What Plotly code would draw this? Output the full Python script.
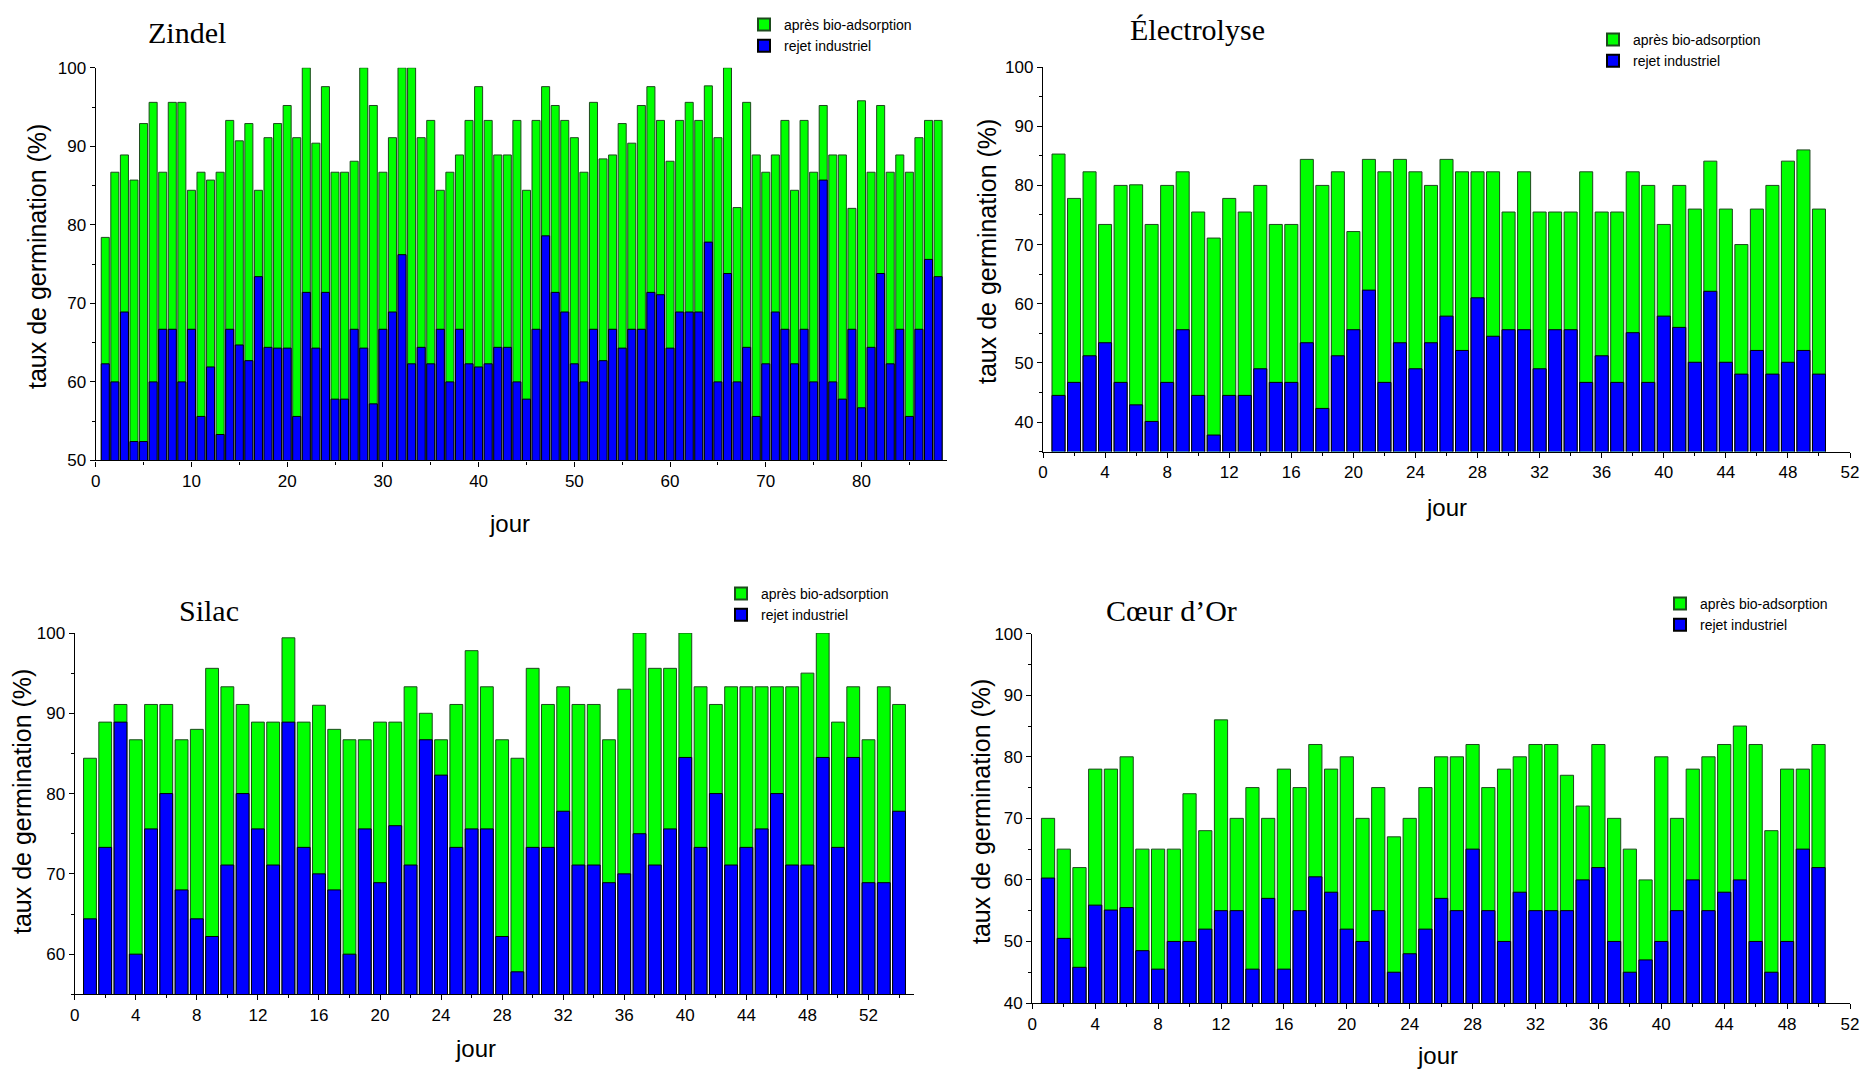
import plotly.graph_objects as go

# ---------------- data ----------------
zindel_apres = [78.4, 86.7, 88.9, 85.7, 92.9, 95.6, 86.7, 95.6, 95.6, 84.4,
                86.7, 85.7, 86.7, 93.3, 90.7, 92.9, 84.4, 91.1, 92.9, 95.2,
                91.1, 100.0, 90.4, 97.6, 86.7, 86.7, 88.1, 100.0, 95.2, 86.7,
                91.1, 100.0, 100.0, 91.1, 93.3, 84.4, 86.7, 88.9, 93.3, 97.6,
                93.3, 88.9, 88.9, 93.3, 84.4, 93.3, 97.6, 95.2, 93.3, 91.1,
                86.7, 95.6, 88.4, 88.9, 92.9, 90.4, 95.2, 97.6, 93.3, 88.1,
                93.3, 95.6, 93.3, 97.7, 91.1, 100.0, 82.2, 95.6, 88.9, 86.7,
                88.9, 93.3, 84.4, 93.3, 86.7, 95.2, 88.9, 88.9, 82.1, 95.8,
                86.7, 95.2, 86.7, 88.9, 86.7, 91.1, 93.3, 93.3]
zindel_rejet = [62.3, 60.0, 68.9, 52.4, 52.4, 60.0, 66.7, 66.7, 60.0, 66.7,
                55.6, 61.9, 53.3, 66.7, 64.7, 62.7, 73.4, 64.4, 64.3, 64.3,
                55.6, 71.4, 64.3, 71.4, 57.8, 57.8, 66.7, 64.3, 57.2, 66.7,
                68.9, 76.2, 62.3, 64.4, 62.3, 66.7, 60.0, 66.7, 62.3, 61.9,
                62.3, 64.4, 64.4, 60.0, 57.8, 66.7, 78.6, 71.4, 68.9, 62.3,
                60.0, 66.7, 62.7, 66.7, 64.3, 66.7, 66.7, 71.4, 71.1, 64.3,
                68.9, 68.9, 68.9, 77.8, 60.0, 73.8, 60.0, 64.4, 55.6, 62.3,
                68.9, 66.7, 62.3, 66.7, 60.0, 85.7, 60.0, 57.8, 66.7, 56.7,
                64.4, 73.8, 62.3, 66.7, 55.6, 66.7, 75.6, 73.4]

electro_apres = [85.3, 77.8, 82.3, 73.4, 80.0, 80.1, 73.4, 80.0, 82.3, 75.5,
                 71.1, 77.8, 75.5, 80.0, 73.4, 73.4, 84.4, 80.0, 82.3, 72.2,
                 84.4, 82.3, 84.4, 82.3, 80.0, 84.4, 82.3, 82.3, 82.3, 75.5,
                 82.3, 75.5, 75.5, 75.5, 82.3, 75.5, 75.5, 82.3, 80.0, 73.4,
                 80.0, 76.0, 84.1, 76.0, 70.0, 76.0, 80.0, 84.1, 86.0, 76.0]
electro_rejet = [44.5, 46.7, 51.2, 53.4, 46.7, 42.9, 40.1, 46.7, 55.6, 44.5,
                 37.8, 44.5, 44.5, 49.0, 46.7, 46.7, 53.4, 42.3, 51.2, 55.6,
                 62.3, 46.7, 53.4, 49.0, 53.4, 57.9, 52.1, 61.0, 54.5, 55.6,
                 55.6, 49.0, 55.6, 55.6, 46.7, 51.2, 46.7, 55.1, 46.7, 57.9,
                 56.0, 50.1, 62.1, 50.1, 48.1, 52.1, 48.1, 50.1, 52.1, 48.1]

silac_apres = [84.4, 88.9, 91.1, 86.7, 91.1, 91.1, 86.7, 88.0, 95.6, 93.3,
               91.1, 88.9, 88.9, 99.4, 88.9, 91.0, 88.0, 86.7, 86.7, 88.9,
               88.9, 93.3, 90.0, 86.7, 91.1, 97.8, 93.3, 86.7, 84.4, 95.6,
               91.1, 93.3, 91.1, 91.1, 86.7, 93.0, 100.0, 95.6, 95.6, 100.0,
               93.3, 91.1, 93.3, 93.3, 93.3, 93.3, 93.3, 95.0, 100.0, 88.9,
               93.3, 86.7, 93.3, 91.1]
silac_rejet = [64.4, 73.3, 88.9, 60.0, 75.6, 80.0, 68.0, 64.4, 62.2, 71.1,
               80.0, 75.6, 71.1, 88.9, 73.3, 70.0, 68.0, 60.0, 75.6, 68.9,
               76.0, 71.1, 86.7, 82.3, 73.3, 75.6, 75.6, 62.2, 57.8, 73.3,
               73.3, 77.8, 71.1, 71.1, 68.9, 70.0, 75.0, 71.1, 75.6, 84.5,
               73.3, 80.0, 71.1, 73.3, 75.6, 80.0, 71.1, 71.1, 84.5, 73.3,
               84.5, 68.9, 68.9, 77.8]

coeur_apres = [70, 65, 62, 78, 78, 80, 65, 65, 65, 74,
               68, 86, 70, 75, 70, 78, 75, 82, 78, 80,
               70, 75, 67, 70, 75, 80, 80, 82, 75, 78,
               80, 82, 82, 77, 72, 82, 70, 65, 60, 80,
               70, 78, 80, 82, 85, 82, 68, 78, 78, 82]
coeur_rejet = [60.3, 50.5, 45.8, 55.9, 55.1, 55.5, 48.5, 45.5, 50.0, 50.0,
               52.0, 55.0, 55.0, 45.5, 57.0, 45.5, 55.0, 60.5, 58.0, 52.0,
               50.0, 55.0, 45.0, 48.0, 52.0, 57.0, 55.0, 65.0, 55.0, 50.0,
               58.0, 55.0, 55.0, 55.0, 60.0, 62.0, 50.0, 45.0, 47.0, 50.0,
               55.0, 60.0, 55.0, 58.0, 60.0, 50.0, 45.0, 50.0, 65.0, 62.0]

titles = ["Zindel", "Électrolyse", "Silac", "Cœur d\u2019Or"]
series_names = ["après bio-adsorption", "rejet industriel"]
x_title = "jour"
y_title = "taux de germination (%)"

# ---------------- layout geometry (pixels) ----------------
W, H = 1863, 1069
panels = [
    dict(apres=zindel_apres, rejet=zindel_rejet, x0=95.7, x1=946.7, ytop=67.8, ybot=460.4,
         xr=[0, 88.9], yr=[50, 100], dtx=10, mdx=5,
         title_xy=(187, 32), jour_xy=(509, 523), yt_xy=(37, 257), leg_xy=(744, 9)),
    dict(apres=electro_apres, rejet=electro_rejet, x0=1043, x1=1850, ytop=67.1, ybot=451.6,
         xr=[0, 52], yr=[35, 100], dtx=4, mdx=2,
         title_xy=(1197, 30), jour_xy=(1446, 507), yt_xy=(987, 252), leg_xy=(1593, 24)),
    dict(apres=silac_apres, rejet=silac_rejet, x0=74.7, x1=914.3, ytop=633, ybot=994.3,
         xr=[0, 55], yr=[55, 100], dtx=4, mdx=2,
         title_xy=(209, 610), jour_xy=(475, 1048), yt_xy=(22, 802), leg_xy=(721, 578)),
    dict(apres=coeur_apres, rejet=coeur_rejet, x0=1032.3, x1=1850, ytop=633.7, ybot=1003,
         xr=[0, 52], yr=[40, 100], dtx=4, mdx=2,
         title_xy=(1171, 610), jour_xy=(1437, 1055), yt_xy=(981, 812), leg_xy=(1660, 588)),
]

GREEN = "#00FF00"
BLUE = "#0000FF"
AX_FONT = dict(family="Liberation Sans, Arial, sans-serif", size=17, color="black")

fig = go.Figure()
annotations = []
layout = dict(width=W, height=H, margin=dict(l=0, r=0, t=0, b=0, autoexpand=False),
              paper_bgcolor="white", plot_bgcolor="white",
              barmode="overlay", bargap=0.16, template="none")

for i, p in enumerate(panels):
    k = "" if i == 0 else str(i + 1)
    xa, ya = "x" + k, "y" + k
    leg = "legend" + k
    days = list(range(1, len(p["apres"]) + 1))
    fig.add_trace(go.Bar(x=days, y=p["apres"], name=series_names[0], xaxis=xa, yaxis=ya,
                         marker=dict(color=GREEN, line=dict(color="#1d4a1d", width=1)),
                         width=0.84, legend=leg))
    fig.add_trace(go.Bar(x=days, y=p["rejet"], name=series_names[1], xaxis=xa, yaxis=ya,
                         marker=dict(color=BLUE, line=dict(color="black", width=1)),
                         width=0.84, legend=leg))
    layout["xaxis" + k] = dict(
        domain=[p["x0"] / W, p["x1"] / W], anchor=ya, range=p["xr"], automargin=False,
        dtick=p["dtx"], tick0=0, ticks="outside", ticklen=5, tickwidth=1.2, tickcolor="black",
        minor=dict(dtick=p["mdx"], tick0=0, ticks="outside", ticklen=3, tickwidth=1.2, tickcolor="black"),
        showline=True, linecolor="black", linewidth=1.3, showgrid=False, zeroline=False,
        tickfont=AX_FONT)
    layout["yaxis" + k] = dict(
        domain=[1 - p["ybot"] / H, 1 - p["ytop"] / H], anchor=xa, range=p["yr"], automargin=False,
        dtick=10, tick0=0, ticks="outside", ticklen=5, tickwidth=1.2, tickcolor="black",
        minor=dict(dtick=5, tick0=0, ticks="outside", ticklen=3, tickwidth=1.2, tickcolor="black"),
        showline=True, linecolor="black", linewidth=1.3, showgrid=False, zeroline=False,
        tickfont=AX_FONT)
    lx, ly = p["leg_xy"]
    layout[leg] = dict(x=lx / W, y=1 - ly / H, xanchor="left", yanchor="top",
                       bgcolor="rgba(0,0,0,0)", traceorder="normal",
                       font=dict(family="Liberation Sans, Arial, sans-serif", size=14, color="black"),
                       tracegroupgap=0, itemsizing="constant")
    tx, ty = p["title_xy"]
    annotations.append(dict(text=titles[i], x=tx / W, y=1 - ty / H, xref="paper", yref="paper",
                            xanchor="center", yanchor="middle", showarrow=False,
                            font=dict(family="Liberation Serif, Times New Roman, serif", size=30, color="black")))
    jx, jy = p["jour_xy"]
    annotations.append(dict(text=x_title, x=jx / W, y=1 - jy / H, xref="paper", yref="paper",
                            xanchor="center", yanchor="middle", showarrow=False,
                            font=dict(family="Liberation Sans, Arial, sans-serif", size=24, color="black")))
    yx, yy = p["yt_xy"]
    annotations.append(dict(text=y_title, x=yx / W, y=1 - yy / H, xref="paper", yref="paper",
                            xanchor="center", yanchor="middle", showarrow=False, textangle=-90,
                            font=dict(family="Liberation Sans, Arial, sans-serif", size=25, color="black")))

layout["annotations"] = annotations
fig.update_layout(**layout)
fig.write_html("out.html", config={"displayModeBar": False},
               post_script="document.body.style.margin='0';document.body.style.overflow='hidden';")
